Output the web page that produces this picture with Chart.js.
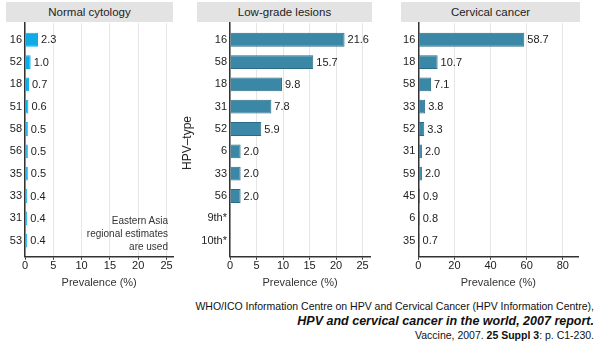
<!DOCTYPE html>
<html>
<head>
<meta charset="utf-8">
<script src="https://cdn.jsdelivr.net/npm/chart.js@4.4.1/dist/chart.umd.min.js"></script>
<style>
body{margin:0;width:600px;height:346px;background:#fff;font-family:"Liberation Sans",Arial,sans-serif;position:relative;overflow:hidden;color:#222}
canvas{position:absolute;top:0}
.hdr{position:absolute;top:2px;height:20px;background:#e3e3e3;font-size:11.5px;line-height:20px;text-align:center;color:#222}
.note{position:absolute;right:432px;top:214px;font-size:10px;line-height:13px;text-align:right;color:#333}
.ylab{position:absolute;left:187px;top:143px;font-size:12px;white-space:nowrap;transform:translate(-50%,-50%) rotate(-90deg);color:#222}
.ref{position:absolute;right:6px;white-space:nowrap;text-align:right;color:#111}
</style>
</head>
<body>
<canvas id="c1" width="180" height="290" style="left:0"></canvas>
<canvas id="c2" width="200" height="290" style="left:180px"></canvas>
<canvas id="c3" width="220" height="290" style="left:380px"></canvas>

<div class="hdr" style="left:6px;width:167px">Normal cytology</div>
<div class="hdr" style="left:197px;width:175px">Low-grade lesions</div>
<div class="hdr" style="left:401px;width:179px">Cervical cancer</div>
<div class="ylab">HPV–type</div>
<div class="note">Eastern Asia<br>regional estimates<br>are used</div>

<div class="ref" style="top:300px;font-size:10.5px">WHO/ICO Information Centre on HPV and Cervical Cancer (HPV Information Centre),</div>
<div class="ref" style="top:314px;font-size:12.5px;font-weight:bold;font-style:italic">HPV and cervical cancer in the world, 2007 report.</div>
<div class="ref" style="top:329px;font-size:10.5px">Vaccine, 2007. <b>25 Suppl 3</b>: p. C1-230.</div>

<script>
// data
const normalTypes = ['16', '52', '18', '51', '58', '56', '35', '33', '31', '53'];
const normalValues = [2.3, 1.0, 0.7, 0.6, 0.5, 0.5, 0.5, 0.4, 0.4, 0.4];

const lowTypes = ['16', '58', '18', '31', '52', '6', '33', '56', '9th*', '10th*'];
const lowValues = [21.6, 15.7, 9.8, 7.8, 5.9, 2.0, 2.0, 2.0, null, null];

const cancerTypes = ['16', '18', '58', '33', '52', '31', '59', '45', '6', '35'];
const cancerValues = [58.7, 10.7, 7.1, 3.8, 3.3, 2.0, 2.0, 0.9, 0.8, 0.7];

const smallTicks = [0, 5, 10, 15, 20, 25];
const cancerTicks = [0, 20, 40, 60, 80];

// labels next to the bars
const valueLabels = {
    id: 'valueLabels',
    afterDatasetsDraw(chart) {
        const ctx = chart.ctx;
        ctx.save();
        ctx.font = '11px "Liberation Sans", Arial, sans-serif';
        ctx.fillStyle = '#222';
        ctx.textBaseline = 'middle';
        ctx.textAlign = 'left';
        const meta = chart.getDatasetMeta(0);
        meta.data.forEach((bar, i) => {
            const v = chart.data.datasets[0].data[i].x;
            ctx.fillText(v.toFixed(1), bar.x + 3, bar.y + 0.5);
        });
        ctx.restore();
    }
};

function makeChart(id, types, values, ticks, xMax, leftW, rightPad, color, border) {
    const H = 290, axisY = 256.7;
    const points = [];
    values.forEach((v, i) => { if (v !== null) points.push({ x: v, y: i }); });
    return new Chart(document.getElementById(id), {
        type: 'bar',
        data: {
            datasets: [{
                data: points,
                backgroundColor: color,
                borderColor: border,
                borderWidth: 1,
                barPercentage: 0.62,
                categoryPercentage: 1
            }]
        },
        options: {
            indexAxis: 'y',
            responsive: false,
            animation: false,
            devicePixelRatio: 1,
            layout: { padding: { left: 0, right: rightPad, top: 23, bottom: 0 } },
            plugins: { legend: { display: false }, tooltip: { enabled: false } },
            scales: {
                y: {
                    type: 'linear',
                    reverse: true,
                    offset: false,
                    min: -0.75,
                    max: 9.72,
                    grid: { display: false, drawTicks: false, offset: false },
                    border: { color: '#333', width: 1.5 },
                    ticks: {
                        stepSize: 1,
                        includeBounds: false,
                        autoSkip: false,
                        padding: 3,
                        color: '#222',
                        font: { size: 11, family: '"Liberation Sans", Arial, sans-serif' },
                        callback: (v) => types[v] !== undefined ? types[v] : ''
                    },
                    afterFit: (s) => { s.width = leftW; }
                },
                x: {
                    type: 'linear',
                    min: 0,
                    max: xMax,
                    grid: { color: '#e6e6e6', tickColor: '#333', tickLength: 3 },
                    border: { color: '#333', width: 1.5 },
                    afterBuildTicks: (s) => { s.ticks = ticks.map(v => ({ value: v })); },
                    ticks: {
                        padding: 0,
                        color: '#222',
                        font: { size: 11, family: '"Liberation Sans", Arial, sans-serif' }
                    },
                    title: {
                        display: true,
                        text: 'Prevalence (%)',
                        color: '#333',
                        padding: 0,
                        font: { size: 11, family: '"Liberation Sans", Arial, sans-serif' }
                    },
                    afterFit: (s) => { s.height = H - axisY; }
                }
            }
        },
        plugins: [valueLabels]
    });
}

makeChart('c1', normalTypes, normalValues, smallTicks, 26.2, 25, 6.7, '#0fabe6', '#0fabe6');
makeChart('c2', lowTypes, lowValues, smallTicks, 26.4, 50, 10, '#3a88a6', '#2a6b85');
makeChart('c3', cancerTypes, cancerValues, cancerTicks, 88.6, 38.3, 21.7, '#3a88a6', '#2a6b85');
</script>
</body>
</html>
